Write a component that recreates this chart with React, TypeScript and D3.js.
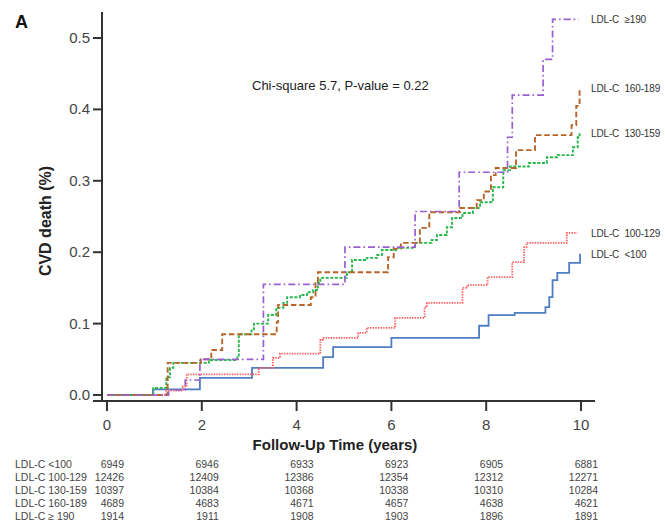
import React from "react";
import * as d3 from "d3";

// step points [years, CVD death %]
const lt100 = [[0, 0], [0.97, 0.008], [1.96, 0.024], [3.06, 0.038], [4.56, 0.053], [4.77, 0.067], [6.0, 0.08], [7.85, 0.097], [8.05, 0.112], [8.6, 0.115], [9.25, 0.123], [9.33, 0.137], [9.4, 0.161], [9.5, 0.171], [9.75, 0.185], [9.98, 0.198]];
const ldl100 = [[0, 0], [1.25, 0.006], [1.6, 0.012], [1.68, 0.029], [3.2, 0.038], [3.5, 0.052], [3.65, 0.058], [4.5, 0.077], [4.55, 0.08], [5.3, 0.087], [5.48, 0.094], [6.08, 0.108], [6.7, 0.123], [6.75, 0.129], [7.5, 0.15], [7.6, 0.154], [8.03, 0.165], [8.55, 0.186], [8.8, 0.207], [8.85, 0.213], [9.7, 0.227], [9.92, 0.227]];
const ldl130 = [[0, 0], [0.98, 0.01], [1.25, 0.025], [1.33, 0.038], [1.4, 0.045], [2.15, 0.049], [2.75, 0.053], [2.78, 0.085], [3.05, 0.092], [3.1, 0.1], [3.4, 0.112], [3.57, 0.122], [3.72, 0.129], [3.8, 0.137], [4.07, 0.14], [4.22, 0.144], [4.35, 0.147], [4.45, 0.157], [4.5, 0.164], [5.06, 0.172], [5.17, 0.189], [5.48, 0.192], [5.7, 0.196], [5.8, 0.203], [6.1, 0.206], [6.5, 0.213], [6.85, 0.217], [6.96, 0.224], [7.17, 0.235], [7.28, 0.248], [7.5, 0.255], [7.72, 0.262], [7.87, 0.27], [8.14, 0.291], [8.36, 0.315], [8.5, 0.32], [8.9, 0.325], [9.28, 0.333], [9.5, 0.336], [9.83, 0.347], [9.93, 0.361], [9.97, 0.367]];
const ldl160 = [[0, 0], [1.28, 0.045], [1.98, 0.05], [2.2, 0.063], [2.43, 0.085], [3.58, 0.102], [3.61, 0.126], [4.3, 0.137], [4.4, 0.157], [4.45, 0.172], [5.93, 0.193], [6.05, 0.205], [6.2, 0.213], [6.6, 0.234], [6.8, 0.256], [7.45, 0.262], [7.8, 0.273], [7.95, 0.285], [8.1, 0.308], [8.2, 0.318], [8.63, 0.343], [9.03, 0.364], [9.8, 0.378], [9.9, 0.405], [9.97, 0.43]];
const ldl190 = [[0, 0], [1.3, 0.007], [1.65, 0.021], [1.96, 0.05], [3.3, 0.155], [5.02, 0.207], [6.5, 0.257], [7.43, 0.312], [8.45, 0.361], [8.55, 0.42], [9.2, 0.47], [9.4, 0.526], [9.95, 0.526]];

const seriesNames = ["LDL-C  <100", "LDL-C  100-129", "LDL-C  130-159", "LDL-C  160-189", "LDL-C  \u2265190"];
const tableNames = ["LDL-C <100", "LDL-C 100-129", "LDL-C 130-159", "LDL-C 160-189", "LDL-C \u2265 190"];
const tableYears = [0, 2, 4, 6, 8, 10];
const atRisk = [
  [6949, 6946, 6933, 6923, 6905, 6881],
  [12426, 12409, 12386, 12354, 12312, 12271],
  [10397, 10384, 10368, 10338, 10310, 10284],
  [4689, 4683, 4671, 4657, 4638, 4621],
  [1914, 1911, 1908, 1903, 1896, 1891],
];
const xTicks = [0, 2, 4, 6, 8, 10];
const yTicks = [0, 0.1, 0.2, 0.3, 0.4, 0.5];

const styles = [
  { color: "#4f7cc2", dash: "none", w: 1.8 },
  { color: "#ff5b5b", dash: "1.4,1.2", w: 1.8 },
  { color: "#26b84a", dash: "3,1.6", w: 1.9 },
  { color: "#b8652c", dash: "5.5,2.8", w: 1.9 },
  { color: "#9a5fcf", dash: "7,3,1.6,3", w: 1.7 },
];

const font = "'Liberation Sans', Arial, sans-serif";

export default function App() {
  const x = d3.scaleLinear().domain([0, 10]).range([107, 581]);
  const y = d3.scaleLinear().domain([0, 0.5]).range([395, 38]);
  const line = d3
    .line<number[]>()
    .x((d) => x(d[0]))
    .y((d) => y(d[1]))
    .curve(d3.curveStepAfter);
  const all = [lt100, ldl100, ldl130, ldl160, ldl190];

  return (
    <svg width={665} height={524} style={{ position: "absolute", left: 0, top: 0, background: "#fff" }} fontFamily={font}>
      <text x={15} y={28} fontSize={18} fontWeight="bold" fill="#111">A</text>

      {/* axes */}
      <line x1={102} x2={102} y1={12} y2={401} stroke="#333" strokeWidth={2} />
      <line x1={93} x2={595} y1={401} y2={401} stroke="#333" strokeWidth={2} />
      {yTicks.map((t) => (
        <g key={"y" + t}>
          <line x1={93} x2={102} y1={y(t)} y2={y(t)} stroke="#333" strokeWidth={2} />
          <text x={90} y={y(t) + 5} fontSize={15} textAnchor="end" fill="#444">{d3.format(".1f")(t)}</text>
        </g>
      ))}
      {xTicks.map((t) => (
        <g key={"x" + t}>
          <line x1={x(t)} x2={x(t)} y1={401} y2={411} stroke="#333" strokeWidth={2} />
          <text x={x(t)} y={430} fontSize={15} textAnchor="middle" fill="#444">{t}</text>
        </g>
      ))}
      <text x={335} y={450} fontSize={15} fontWeight="bold" textAnchor="middle" fill="#222">Follow-Up Time (years)</text>
      <text transform="translate(51,221) rotate(-90)" fontSize={16} fontWeight="bold" textAnchor="middle" fill="#222">CVD death (%)</text>

      <text x={252} y={90} fontSize={13} fill="#222">Chi-square 5.7, P-value = 0.22</text>

      {/* curves */}
      {all.map((s, i) => (
        <path key={"s" + i} d={line(s) || ""} fill="none" stroke={styles[i].color} strokeWidth={styles[i].w} strokeDasharray={styles[i].dash} />
      ))}
      {all.map((s, i) => (
        <text key={"l" + i} x={591} y={y(s[s.length - 1][1]) + 4} fontSize={10} letterSpacing={-0.15} fill="#333" style={{ whiteSpace: "pre" }}>{seriesNames[i]}</text>
      ))}

      {/* numbers at risk */}
      {tableNames.map((n, r) => (
        <g key={"r" + r} fontSize={10.5} fill="#444">
          <text x={15} y={468 + r * 12.9} style={{ whiteSpace: "pre" }}>{n}</text>
          {atRisk[r].map((v, c) => (
            <text key={c} x={x(tableYears[c]) + 17} y={468 + r * 12.9} textAnchor="end">{v}</text>
          ))}
        </g>
      ))}
    </svg>
  );
}
